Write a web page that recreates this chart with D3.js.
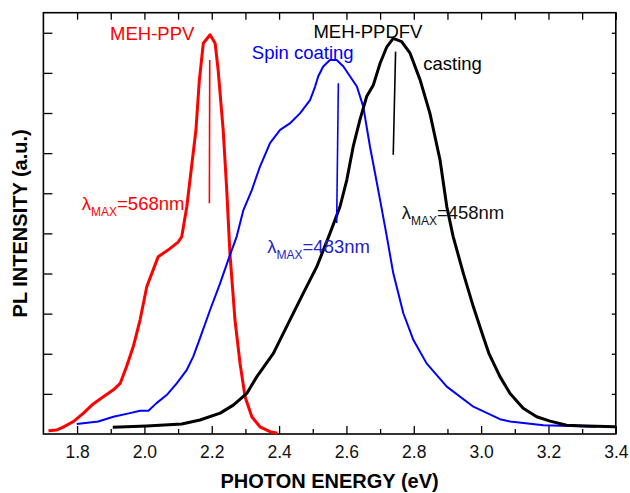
<!DOCTYPE html>
<html>
<head>
<meta charset="utf-8">
<script src="https://cdn.jsdelivr.net/npm/d3@7"></script>
<style>
  body { margin: 0; background: #fff; }
  svg { display: block; font-family: "Liberation Sans", Arial, sans-serif; }
</style>
</head>
<body>
<div id="main"></div>
<script>
"use strict";

// photon energy (eV) / PL intensity (a.u.)
const pplvEnergy = [1.715, 1.740, 1.759, 1.789, 1.819, 1.848, 1.878, 1.908, 1.928, 1.947, 1.967, 1.987,
    2.007, 2.026, 2.041, 2.071, 2.101, 2.111, 2.126, 2.140, 2.153, 2.163, 2.175, 2.195, 2.210, 2.219,
    2.234, 2.244, 2.254, 2.269, 2.284, 2.299, 2.319, 2.343, 2.373, 2.395];
const pplvIntensity = [0.08, 0.10, 0.17, 0.31, 0.52, 0.75, 0.93, 1.10, 1.26, 1.68, 2.18, 2.84,
    3.67, 4.09, 4.42, 4.59, 4.79, 4.92, 5.67, 6.66, 7.57, 8.80, 9.74, 9.95, 9.74, 9.07,
    7.57, 6.16, 4.50, 2.84, 1.76, 0.93, 0.43, 0.18, 0.06, 0.02];

const spinEnergy = [1.799, 1.863, 1.908, 1.957, 1.987, 2.012, 2.036, 2.066, 2.096, 2.126, 2.145, 2.163,
    2.195, 2.225, 2.249, 2.274, 2.294, 2.319, 2.343, 2.373, 2.403, 2.432, 2.462, 2.492, 2.507, 2.516,
    2.531, 2.551, 2.571, 2.591, 2.611, 2.631, 2.650, 2.670, 2.685, 2.700, 2.720, 2.739, 2.769, 2.799,
    2.838, 2.898, 2.977, 3.056, 3.086, 3.185, 3.343];
const spinIntensity = [0.25, 0.31, 0.43, 0.52, 0.58, 0.58, 0.77, 0.97, 1.26, 1.60, 1.93, 2.34,
    3.09, 3.76, 4.34, 4.92, 5.58, 6.08, 6.66, 7.25, 7.58, 7.74, 7.99, 8.32, 8.66, 8.91,
    9.16, 9.32, 9.32, 9.16, 8.91, 8.66, 8.16, 7.16, 6.50, 5.83, 4.92, 4.01, 3.01, 2.34,
    1.76, 1.18, 0.68, 0.37, 0.31, 0.22, 0.18];

const castEnergy = [1.906, 2.007, 2.111, 2.165, 2.225, 2.264, 2.304, 2.334, 2.383, 2.432, 2.472, 2.512,
    2.551, 2.581, 2.601, 2.620, 2.640, 2.660, 2.680, 2.700, 2.720, 2.739, 2.764, 2.789, 2.819, 2.848,
    2.878, 2.898, 2.917, 2.947, 2.977, 3.006, 3.023, 3.056, 3.086, 3.125, 3.165, 3.205, 3.254, 3.314, 3.398];
const castIntensity = [0.17, 0.20, 0.25, 0.35, 0.52, 0.72, 1.01, 1.43, 2.01, 2.84, 3.51, 4.17,
    5.00, 5.67, 6.33, 7.16, 7.83, 8.41, 8.70, 9.24, 9.65, 9.86, 9.78, 9.49, 8.82, 7.99,
    6.83, 5.67, 4.92, 4.01, 3.17, 2.43, 2.01, 1.43, 1.01, 0.64, 0.43, 0.32, 0.22, 0.20, 0.18];

// lambda max markers: [energy top, intensity top, energy bottom, intensity bottom]
const markerPPV = [2.194, 9.32, 2.193, 5.75];
const markerSpin = [2.576, 8.74, 2.571, 5.26];
const markerCast = [2.746, 9.53, 2.739, 6.96];

const xMajorTicks = [1.8, 2.0, 2.2, 2.4, 2.6, 2.8, 3.0, 3.2, 3.4];
const xMinorTicks = [1.9, 2.1, 2.3, 2.5, 2.7, 2.9, 3.1, 3.3];
const yTicks = [1, 2, 3, 4, 5, 6, 7, 8, 9, 10];

const width = 630, height = 493;
const margin = { left: 43.4, right: 14.2, top: 12.7, bottom: 59 };

function zip(xs, ys) {
    return xs.map((v, i) => ({ x: v, y: ys[i] }));
}

function main() {
    const svg = d3.select("#main").append("svg")
        .attr("width", width)
        .attr("height", height);

    const x = d3.scaleLinear().domain([1.7, 3.4]).range([margin.left, width - margin.right]);
    const y = d3.scaleLinear().domain([0, 10.5]).range([height - margin.bottom, margin.top]);

    const x0 = x.range()[0], x1 = x.range()[1];
    const y0 = y.range()[0], y1 = y.range()[1];

    // ticks all point into the plot
    const bottom = svg.append("g").attr("transform", `translate(0,${y0})`)
        .call(d3.axisBottom(x).tickValues(xMajorTicks).tickSize(-8).tickPadding(11.5).tickFormat(d3.format(".1f")));
    svg.append("g").attr("transform", `translate(0,${y0})`)
        .call(d3.axisBottom(x).tickValues(xMinorTicks).tickSize(-5).tickFormat(""));
    svg.append("g").attr("transform", `translate(0,${y1})`)
        .call(d3.axisTop(x).tickValues(xMajorTicks.concat(xMinorTicks)).tickSize(-7).tickFormat(""));
    svg.append("g").attr("transform", `translate(${x0},0)`)
        .call(d3.axisLeft(y).tickValues(yTicks).tickSize(-9).tickFormat(""));
    svg.append("g").attr("transform", `translate(${x1},0)`)
        .call(d3.axisRight(y).tickValues(yTicks).tickSize(-4).tickFormat(""));

    svg.selectAll(".domain").remove();
    svg.selectAll(".tick line").attr("stroke", "#000").attr("stroke-width", 1.3);
    bottom.selectAll("text")
        .attr("font-family", "'Liberation Sans', Arial, sans-serif")
        .attr("font-size", 17.5)
        .attr("fill", "#111");

    svg.append("rect")
        .attr("x", x0).attr("y", y1)
        .attr("width", x1 - x0).attr("height", y0 - y1)
        .attr("fill", "none").attr("stroke", "#000").attr("stroke-width", 1.6);

    const line = d3.line().x(d => x(d.x)).y(d => y(d.y));

    const series = [
        { pts: zip(pplvEnergy, pplvIntensity), color: "#ff0000", w: 3 },
        { pts: zip(spinEnergy, spinIntensity), color: "#0000ff", w: 2 },
        { pts: zip(castEnergy, castIntensity), color: "#000000", w: 3 }
    ];
    svg.append("g").selectAll("path")
        .data(series)
        .join("path")
        .attr("d", d => line(d.pts))
        .attr("fill", "none")
        .attr("stroke", d => d.color)
        .attr("stroke-width", d => d.w)
        .attr("stroke-linejoin", "round");

    const markers = [
        { m: markerPPV, color: "#ff0000" },
        { m: markerSpin, color: "#0000ff" },
        { m: markerCast, color: "#000000" }
    ];
    svg.append("g").selectAll("line")
        .data(markers)
        .join("line")
        .attr("x1", d => x(d.m[0])).attr("y1", d => y(d.m[1]))
        .attr("x2", d => x(d.m[2])).attr("y2", d => y(d.m[3]))
        .attr("stroke", d => d.color)
        .attr("stroke-width", 1.6);

    // curve labels
    const labels = [
        { t: "MEH-PPV", ex: 1.898, iy: 9.82, c: "#ff0000" },
        { t: "MEH-PPDFV", ex: 2.502, iy: 9.88, c: "#000000" },
        { t: "Spin coating", ex: 2.319, iy: 9.35, c: "#0000ff" },
        { t: "casting", ex: 2.828, iy: 9.07, c: "#000000" }
    ];
    svg.append("g").selectAll("text")
        .data(labels)
        .join("text")
        .attr("x", d => x(d.ex))
        .attr("y", d => y(d.iy))
        .attr("font-size", 18.5)
        .attr("fill", d => d.c)
        .text(d => d.t);

    const lambdas = [
        { nm: "=568nm", ex: 1.814, iy: 5.58, c: "#ff0000" },
        { nm: "=483nm", ex: 2.365, iy: 4.52, c: "#2323c8" },
        { nm: "=458nm", ex: 2.764, iy: 5.35, c: "#111111" }
    ];
    const lt = svg.append("g").selectAll("text")
        .data(lambdas)
        .join("text")
        .attr("x", d => x(d.ex))
        .attr("y", d => y(d.iy))
        .attr("font-size", 18.5)
        .attr("fill", d => d.c);
    lt.append("tspan").text("λ");
    lt.append("tspan").attr("font-size", 12).attr("dy", 6).text("MAX");
    lt.append("tspan").attr("dy", -6).text(d => d.nm);

    // axis titles
    svg.append("text")
        .attr("x", (x0 + x1) / 2)
        .attr("y", 488)
        .attr("text-anchor", "middle")
        .attr("font-size", 20)
        .attr("font-weight", "bold")
        .text("PHOTON ENERGY (eV)");

    svg.append("text")
        .attr("transform", `translate(27,${(y0 + y1) / 2}) rotate(-90)`)
        .attr("text-anchor", "middle")
        .attr("font-size", 20)
        .attr("font-weight", "bold")
        .text("PL INTENSITY (a.u.)");
}

main();
</script>
</body>
</html>
